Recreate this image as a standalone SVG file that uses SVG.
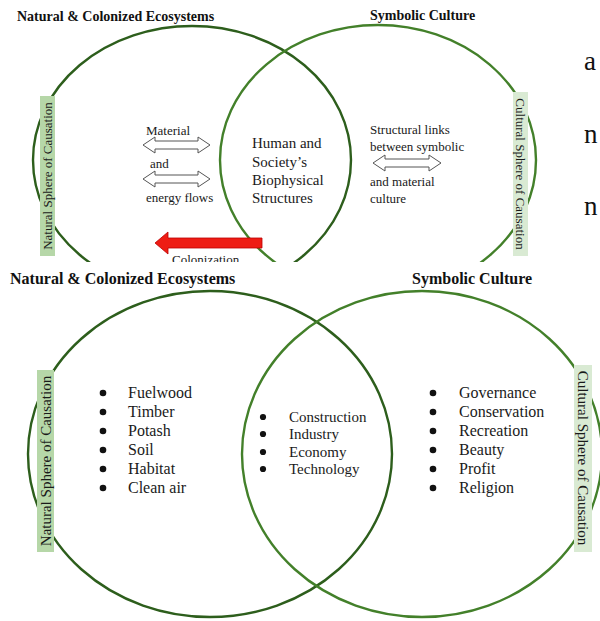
<svg xmlns="http://www.w3.org/2000/svg" width="600" height="621" viewBox="0 0 600 621">
<style>
.t{font-family:"Liberation Serif","Times New Roman",serif;fill:#1a1a1a}
.h{font-family:"Liberation Serif","Times New Roman",serif;font-weight:bold;fill:#111}
.cl{fill:none;stroke:#2d5e1c;stroke-width:2.4}
.cr{fill:none;stroke:#43802a;stroke-width:2.4}
.da{fill:#fff;stroke:#555;stroke-width:1}
.b{fill:#111}
.big{font-family:"Liberation Serif","Times New Roman",serif;font-size:27px;fill:#111}
</style>
<defs>
<clipPath id="topclip"><rect x="0" y="0" width="600" height="262"/></clipPath>
</defs>
<rect width="600" height="621" fill="#fff"/>

<!-- stray letters -->
<g id="stray">
<text class="big" x="584" y="70">a</text>
<text class="big" x="584" y="143">n</text>
<text class="big" x="584" y="215">n</text>
</g>

<!-- top diagram -->
<g id="top" clip-path="url(#topclip)">
<g id="top-circles">
<ellipse id="top-left-circle" class="cl" cx="192" cy="160" rx="159" ry="134"/>
<ellipse id="top-right-circle" class="cr" cx="378" cy="160" rx="158" ry="135"/>
</g>
<g id="top-title-left"><text class="h" x="17" y="21" font-size="14">Natural &amp; Colonized Ecosystems</text></g>
<g id="top-title-right"><text class="h" x="370" y="20" font-size="14">Symbolic Culture</text></g>
<g id="top-natural-label">
<rect x="40" y="96" width="15" height="160" fill="#b6d7a8"/>
<text class="t" font-size="13" text-anchor="middle" transform="rotate(-90 52 176)" x="52" y="176">Natural Sphere of Causation</text>
</g>
<g id="top-cultural-label">
<rect x="513" y="92" width="15" height="164" fill="#d9ead3"/>
<text class="t" font-size="13" text-anchor="middle" transform="rotate(90 516 174)" x="516" y="174">Cultural Sphere of Causation</text>
</g>
<g id="top-material">
<text class="t" font-size="13" x="146" y="135">Material</text>
<text class="t" font-size="13" x="150" y="168">and</text>
<text class="t" font-size="13" x="146" y="202">energy flows</text>
</g>
<g id="top-center">
<text class="t" font-size="15" x="252" y="148">Human and</text>
<text class="t" font-size="15" x="252" y="167">Society’s</text>
<text class="t" font-size="15" x="252" y="185">Biophysical</text>
<text class="t" font-size="15" x="252" y="203">Structures</text>
</g>
<g id="top-structural">
<text class="t" font-size="13" x="370" y="134">Structural links</text>
<text class="t" font-size="13" x="370" y="151">between symbolic</text>
<text class="t" font-size="13" x="370" y="186">and material</text>
<text class="t" font-size="13" x="370" y="203">culture</text>
</g>
<g id="top-arrows">
<path class="da" d="M143,145 L155,137 L155,141 L198,141 L198,137 L210,145 L198,153 L198,149 L155,149 L155,153 Z"/>
<path class="da" d="M143,179 L155,171 L155,175 L198,175 L198,171 L210,179 L198,187 L198,183 L155,183 L155,187 Z"/>
<path class="da" d="M373,163 L385,155 L385,159 L429,159 L429,155 L441,163 L429,171 L429,167 L385,167 L385,171 Z"/>
</g>
<g id="colonization">
<path d="M155,243 L168,232 L168,238 L262,238 L262,248 L168,248 L168,254 Z" fill="#ee1c14" stroke="#b00" stroke-width="0.8"/>
<text class="t" font-size="13" x="172" y="264">Colonization</text>
</g>
</g>

<!-- bottom diagram -->
<g id="bottom-circles">
<ellipse id="bottom-left-circle" class="cl" cx="210" cy="454" rx="182" ry="163"/>
<ellipse id="bottom-right-circle" class="cr" cx="422" cy="454" rx="180" ry="163"/>
</g>
<g id="bottom-title-left"><text class="h" x="10" y="284" font-size="16">Natural &amp; Colonized Ecosystems</text></g>
<g id="bottom-title-right"><text class="h" x="412" y="284" font-size="16">Symbolic Culture</text></g>
<g id="bottom-natural-label">
<rect x="37" y="370" width="17" height="182" fill="#b6d7a8"/>
<text class="t" font-size="15" text-anchor="middle" transform="rotate(-90 51 461)" x="51" y="461">Natural Sphere of Causation</text>
</g>
<g id="bottom-cultural-label">
<rect x="574" y="365" width="18" height="187" fill="#d9ead3"/>
<text class="t" font-size="15" text-anchor="middle" transform="rotate(90 578 458)" x="578" y="458">Cultural Sphere of Causation</text>
</g>
<g id="left-list" class="t" font-size="16">
<circle class="b" cx="103" cy="393" r="3.3"/><text class="t" x="128" y="398">Fuelwood</text>
<circle class="b" cx="103" cy="412" r="3.3"/><text class="t" x="128" y="417">Timber</text>
<circle class="b" cx="103" cy="431" r="3.3"/><text class="t" x="128" y="436">Potash</text>
<circle class="b" cx="103" cy="450" r="3.3"/><text class="t" x="128" y="455">Soil</text>
<circle class="b" cx="103" cy="469" r="3.3"/><text class="t" x="128" y="474">Habitat</text>
<circle class="b" cx="103" cy="488" r="3.3"/><text class="t" x="128" y="493">Clean air</text>
</g>
<g id="middle-list" class="t" font-size="15">
<circle class="b" cx="263" cy="417" r="3.1"/><text class="t" x="289" y="422">Construction</text>
<circle class="b" cx="263" cy="434" r="3.1"/><text class="t" x="289" y="439">Industry</text>
<circle class="b" cx="263" cy="452" r="3.1"/><text class="t" x="289" y="457">Economy</text>
<circle class="b" cx="263" cy="469" r="3.1"/><text class="t" x="289" y="474">Technology</text>
</g>
<g id="right-list" class="t" font-size="16">
<circle class="b" cx="433" cy="393" r="3.3"/><text class="t" x="459" y="398">Governance</text>
<circle class="b" cx="433" cy="412" r="3.3"/><text class="t" x="459" y="417">Conservation</text>
<circle class="b" cx="433" cy="431" r="3.3"/><text class="t" x="459" y="436">Recreation</text>
<circle class="b" cx="433" cy="450" r="3.3"/><text class="t" x="459" y="455">Beauty</text>
<circle class="b" cx="433" cy="469" r="3.3"/><text class="t" x="459" y="474">Profit</text>
<circle class="b" cx="433" cy="488" r="3.3"/><text class="t" x="459" y="493">Religion</text>
</g>
</svg>
